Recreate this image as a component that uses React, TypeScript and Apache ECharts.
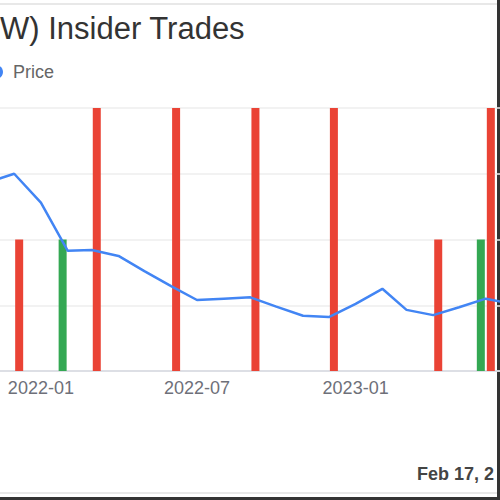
import React, { useRef, useEffect } from 'react';
import * as echarts from 'echarts';

const FONT = "'Liberation Sans', Arial, sans-serif";

// monthly closing price
const priceDates = [
  '2021-11-01', '2021-12-01', '2022-01-01', '2022-02-01', '2022-03-01', '2022-04-01',
  '2022-05-01', '2022-06-01', '2022-07-01', '2022-08-01', '2022-09-01', '2022-10-01',
  '2022-11-01', '2022-12-01', '2023-01-01', '2023-02-01', '2023-03-01', '2023-04-01',
  '2023-05-01', '2023-06-01', '2023-07-01',
];
const priceValues = [
  28.7, 30.0, 25.6, 18.3, 18.4, 17.5,
  15.2, 12.9, 10.8, 11.0, 11.2, 9.8,
  8.4, 8.2, 10.2, 12.5, 9.3, 8.5,
  9.7, 11.0, 10.2,
];

// insider trades per month
const buyDates = ['2022-02-01', '2023-06-01'];
const buyCounts = [2, 2];
const sellDates = ['2021-12-01', '2022-03-01', '2022-06-01', '2022-09-01', '2022-12-01', '2023-04-01', '2023-06-01'];
const sellCounts = [2, 4, 4, 4, 4, 2, 4];

// months that get an x axis label
const labelMonths = [1, 7];

function toTime(s: string) {
  const [y, m, d] = s.split('-').map(Number);
  return new Date(y, m - 1, d).getTime();
}

function monthLabel(v: number) {
  const d = new Date(v);
  if (d.getDate() !== 1 || !labelMonths.includes(d.getMonth() + 1)) return '';
  return `${d.getFullYear()}-${String(d.getMonth() + 1).padStart(2, '0')}`;
}

export default function App() {
  const ref = useRef<HTMLDivElement>(null);

  useEffect(() => {
    if (!ref.current) return;
    const chart = echarts.init(ref.current, undefined, { renderer: 'svg' });
    const option: any = {
      animation: false,
      backgroundColor: '#fff',
      textStyle: { fontFamily: FONT },
      title: {
        text: 'W) Insider Trades',
        left: 0,
        top: 13,
        padding: 0,
        textStyle: { fontSize: 31, fontWeight: 'normal', color: '#333', fontFamily: FONT },
      },
      legend: {
        data: ['Price'],
        left: 0,
        top: 63,
        padding: 0,
        icon: 'circle',
        itemWidth: 8,
        itemHeight: 14,
        itemStyle: { opacity: 0 },
        textStyle: { fontSize: 18, color: '#666', fontFamily: FONT },
      },
      grid: { left: 0, right: 0, top: 108, bottom: 129 },
      xAxis: {
        type: 'time',
        // echarts pads a time axis with bars by the bar group width; these bounds
        // end up as roughly mid-Nov 2021 .. mid-Jun 2023 at the grid edges
        min: toTime('2021-11-25'),
        max: toTime('2023-06-07'),
        axisLine: { lineStyle: { color: '#d6d9e0', width: 1.5 } },
        axisTick: { show: false },
        splitLine: { show: false },
        axisLabel: {
          formatter: (v: number) => monthLabel(v),
          fontSize: 18,
          color: '#6e7079',
          margin: 8,
          fontFamily: FONT,
        },
      },
      yAxis: [
        {
          type: 'value',
          min: 0,
          max: 4,
          interval: 1,
          axisLabel: { show: false },
          axisLine: { show: false },
          axisTick: { show: false },
          splitLine: { lineStyle: { color: '#eeeeee', width: 1.5 } },
        },
        {
          type: 'value',
          min: 0,
          max: 40,
          interval: 10,
          axisLabel: { show: false },
          axisLine: { show: false },
          axisTick: { show: false },
          splitLine: { show: false },
        },
      ],
      series: [
        {
          name: 'Buy',
          type: 'bar',
          barWidth: 8,
          barGap: '25%',
          itemStyle: { color: '#34a853' },
          data: buyDates.map((d, i) => [toTime(d), buyCounts[i]]),
        },
        {
          name: 'Sell',
          type: 'bar',
          barWidth: 8,
          barGap: '25%',
          itemStyle: { color: '#ea4335' },
          data: sellDates.map((d, i) => [toTime(d), sellCounts[i]]),
        },
        {
          name: 'Price',
          type: 'line',
          yAxisIndex: 1,
          symbol: 'none',
          z: 5,
          itemStyle: { color: '#4285f4' },
          lineStyle: { color: '#4285f4', width: 2.5 },
          data: priceDates.map((d, i) => [toTime(d), priceValues[i]]),
        },
      ],
      graphic: [
        { type: 'circle', shape: { cx: -4, cy: 72, r: 7 }, style: { fill: '#4285f4' } },
        { type: 'rect', shape: { x: 0, y: 3, width: 500, height: 2 }, style: { fill: '#e8e8e8' } },
        { type: 'rect', shape: { x: 0, y: 492, width: 500, height: 2 }, style: { fill: '#e8e8e8' } },
        { type: 'rect', shape: { x: 497, y: 0, width: 3, height: 500 }, style: { fill: '#333' } },
        { type: 'rect', shape: { x: 0, y: 497, width: 500, height: 3 }, style: { fill: '#333' } },
        {
          type: 'text',
          x: 417,
          y: 474,
          style: {
            text: 'Feb 17, 2',
            fontSize: 18,
            fontWeight: 'bold',
            fill: '#444',
            verticalAlign: 'middle',
            fontFamily: FONT,
          },
        },
      ],
    };
    chart.setOption(option);
    return () => chart.dispose();
  }, []);

  return (
    <div
      ref={ref}
      style={{ position: 'fixed', left: 0, top: 0, width: 500, height: 500, overflow: 'hidden' }}
    />
  );
}
